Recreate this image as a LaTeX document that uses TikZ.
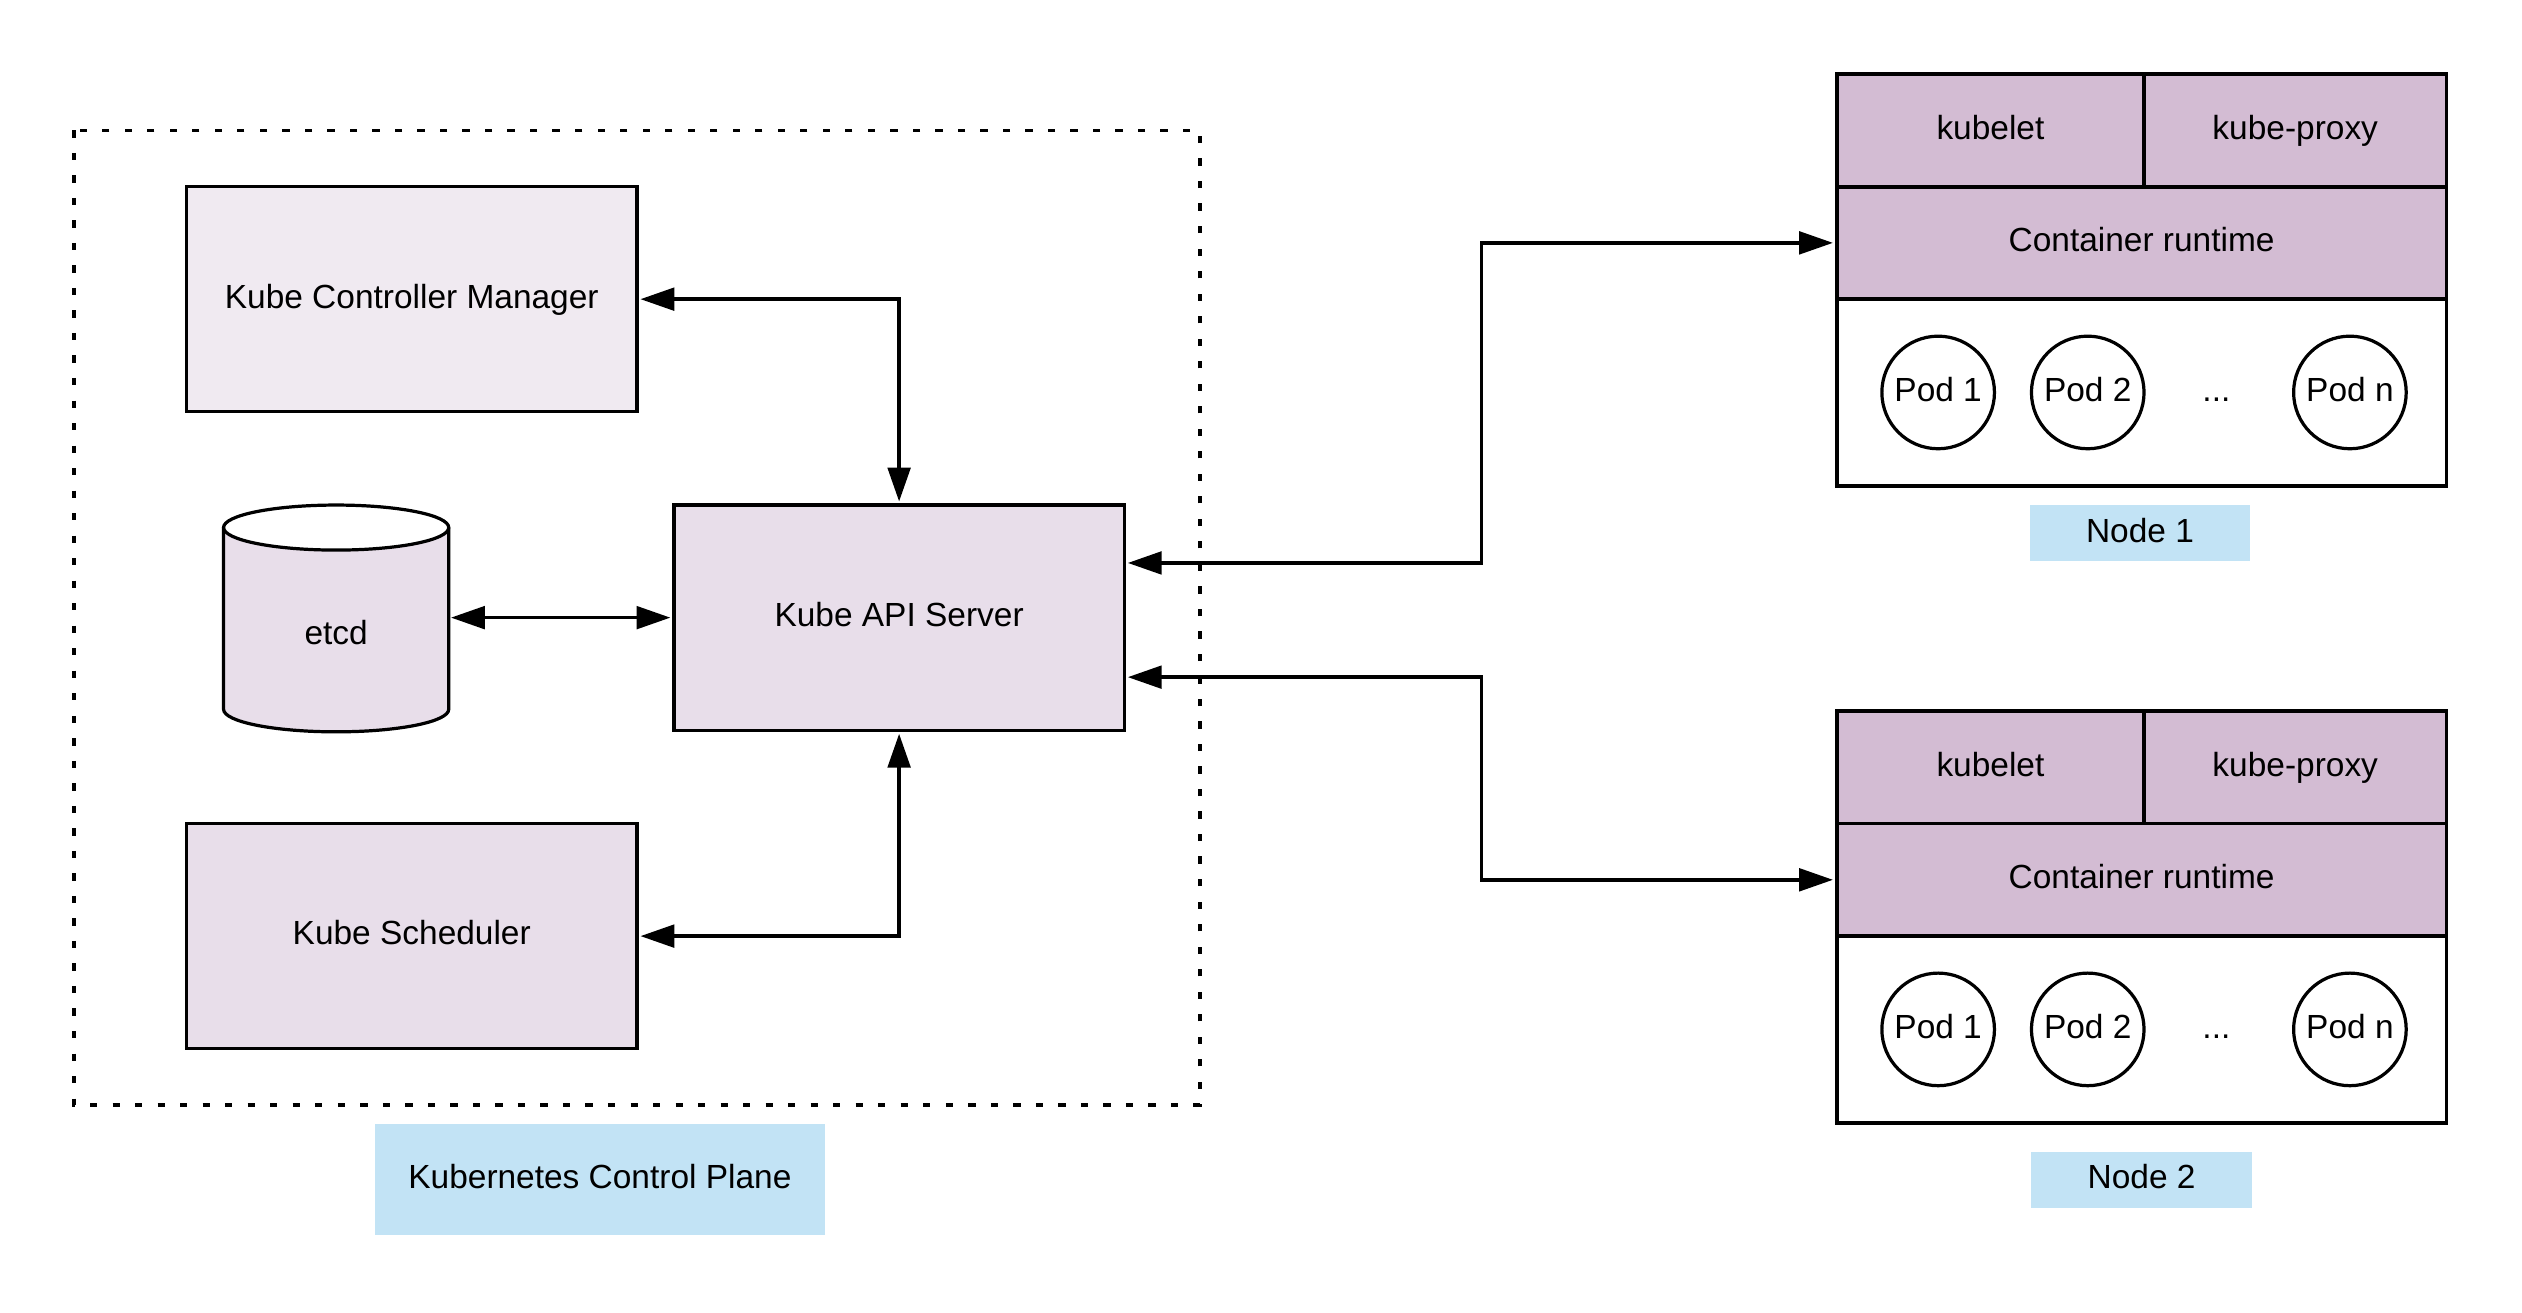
\documentclass[tikz,border=0pt]{standalone}
\usepackage{fontspec}
\setmainfont{Liberation Sans}
\usetikzlibrary{arrows.meta}
\definecolor{cmfill}{HTML}{F0EAF1}
\definecolor{apifill}{HTML}{E8DEEA}
\definecolor{nodefill}{HTML}{D3BCD3}
\definecolor{labelfill}{HTML}{C2E3F5}
\begin{document}
\begin{tikzpicture}[x=1pt,y=-1pt,
  every node/.style={font=\fontsize{20.8}{24}\selectfont, inner sep=0pt, text height=15pt, text depth=4pt},
  cbox/.style={draw, line width=2pt, rectangle, minimum width=280pt, minimum height=140pt},
  rowbox/.style={draw, line width=2.4pt, rectangle, fill=nodefill, minimum height=70pt},
  podarea/.style={draw, line width=2.4pt, rectangle, fill=white, minimum width=379pt, minimum height=116pt},
  pod/.style={draw, line width=2pt, circle, minimum size=70pt},
  tag/.style={rectangle, fill=labelfill},
  conn/.style={line width=2.2pt, shorten <=1.2pt, shorten >=1.2pt,
    {Triangle[length=21pt,width=14pt]}-{Triangle[length=21pt,width=14pt]}}
]
\useasboundingbox (0,0) rectangle (1568,816);

% control plane dashed frame
\draw[line width=2.1pt, dash pattern=on 4.5pt off 9.5pt] (46,81) rectangle (746,687);

\node[cbox, fill=cmfill] (cm) at (256,186) {Kube Controller Manager};
\node[cbox, fill=apifill] (api) at (559,384) {Kube API Server};
\node[cbox, fill=apifill] (sched) at (256,582) {Kube Scheduler};

% etcd cylinder
\fill[apifill] (139,328) -- (139,441) arc[start angle=180, end angle=360, x radius=70, y radius=-14] -- (279,328) arc[start angle=0, end angle=180, x radius=70, y radius=14] -- cycle;
\draw[line width=2pt] (139,328) -- (139,441) arc[start angle=180, end angle=360, x radius=70, y radius=-14] -- (279,328);
\draw[line width=2pt] (209,328) ellipse[x radius=70, y radius=14];
\node[minimum width=140pt, minimum height=140pt, text height=0pt, text depth=0pt,
  label={[yshift=-11pt]center:etcd}] (etcd) at (209,384) {};

\node[tag, minimum width=280pt, minimum height=69pt] (cpl) at (373,733.5) {Kubernetes Control Plane};

% Node 1
\node[rowbox, minimum width=191pt] (kl1) at (1237.5,81) {kubelet};
\node[rowbox, minimum width=188pt] (kp1) at (1427,81) {kube-proxy};
\node[rowbox, minimum width=379pt] (cr1) at (1331.5,151) {Container runtime};
\node[podarea] (pa1) at (1331.5,244) {};
\node[pod] (p11) at (1205,244) {Pod 1};
\node[pod] (p12) at (1298,244) {Pod 2};
\node (d1) at (1378,244) {...};
\node[pod] (p1n) at (1461,244) {Pod n};
\node[tag, minimum width=137pt, minimum height=35pt] (n1) at (1330.5,331.5) {Node 1};

% Node 2
\node[rowbox, minimum width=191pt] (kl2) at (1237.5,477) {kubelet};
\node[rowbox, minimum width=188pt] (kp2) at (1427,477) {kube-proxy};
\node[rowbox, minimum width=379pt] (cr2) at (1331.5,547) {Container runtime};
\node[podarea] (pa2) at (1331.5,640) {};
\node[pod] (p21) at (1205,640) {Pod 1};
\node[pod] (p22) at (1298,640) {Pod 2};
\node (d2) at (1378,640) {...};
\node[pod] (p2n) at (1461,640) {Pod n};
\node[tag, minimum width=137pt, minimum height=35pt] (n2) at (1331.5,733.5) {Node 2};

% connectors
\draw[conn] (cm.east) -| (api.north);
\draw[conn] (sched.east) -| (api.south);
\draw[conn] (etcd.east) -- (api.west);
\draw[conn] ([yshift=34pt]api.east) -- ++(221pt,0) |- (cr1.west);
\draw[conn] ([yshift=-37pt]api.east) -- ++(221pt,0) |- (cr2.west);
\end{tikzpicture}
\end{document}
